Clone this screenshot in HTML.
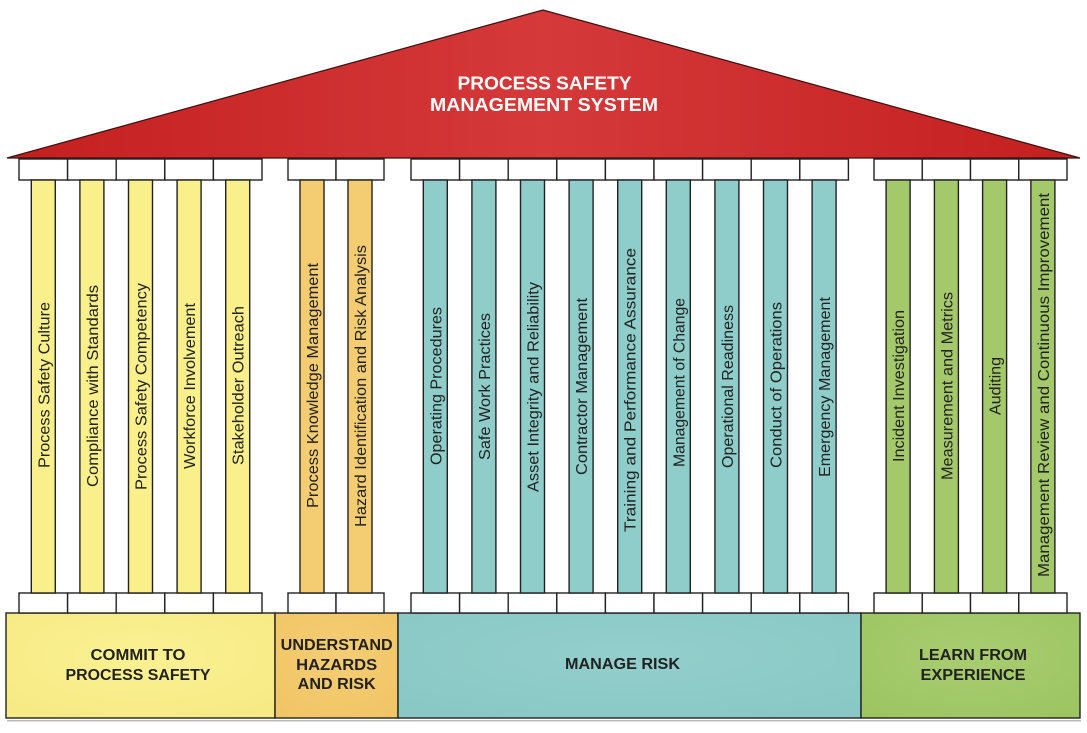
<!DOCTYPE html>
<html>
<head>
<meta charset="utf-8">
<style>
  html,body{margin:0;padding:0;background:#fff;}
  svg{display:block;}
  .col{font-family:"Liberation Sans",Arial,sans-serif;font-size:16px;fill:#222;}
  .base{font-family:"Liberation Sans",Arial,sans-serif;font-size:16px;font-weight:bold;fill:#222;}
  .roof{font-family:"Liberation Sans",Arial,sans-serif;font-size:18.5px;font-weight:bold;fill:#fff;}
</style>
</head>
<body>
<svg width="1087" height="733" viewBox="0 0 1087 733" xmlns="http://www.w3.org/2000/svg">
  <defs>
    <linearGradient id="roofG" x1="0" y1="0" x2="1" y2="0">
      <stop offset="0" stop-color="#c41f1f"/>
      <stop offset="0.5" stop-color="#d5393a"/>
      <stop offset="1" stop-color="#c41f1f"/>
    </linearGradient>
    <radialGradient id="yG" cx="0.5" cy="0.4" r="0.7">
      <stop offset="0" stop-color="#fbf192"/><stop offset="1" stop-color="#f6ea84"/>
    </radialGradient>
    <radialGradient id="oG" cx="0.5" cy="0.4" r="0.7">
      <stop offset="0" stop-color="#f5cd74"/><stop offset="1" stop-color="#f1c566"/>
    </radialGradient>
    <radialGradient id="tG" cx="0.5" cy="0.4" r="0.7">
      <stop offset="0" stop-color="#93cfcc"/><stop offset="1" stop-color="#89c8c5"/>
    </radialGradient>
    <radialGradient id="gG" cx="0.5" cy="0.4" r="0.7">
      <stop offset="0" stop-color="#a8cd70"/><stop offset="1" stop-color="#9dc562"/>
    </radialGradient>
  </defs>

  <!-- Roof -->
  <polygon points="7,158 543,10 1080,158" fill="url(#roofG)" stroke="#3a1010" stroke-width="1.2" stroke-linejoin="miter"/>
  <text class="roof" x="544.5" y="89.5" text-anchor="middle" textLength="174" lengthAdjust="spacingAndGlyphs">PROCESS SAFETY</text>
  <text class="roof" x="544" y="111" text-anchor="middle" textLength="228" lengthAdjust="spacingAndGlyphs">MANAGEMENT SYSTEM</text>

  <!-- Base blocks -->
  <rect x="7" y="720" width="1074" height="1.5" fill="#bbb"/>
  <rect x="6" y="613" width="269" height="105" fill="url(#yG)" stroke="#222" stroke-width="1.4"/>
  <rect x="275" y="613" width="123" height="105" fill="url(#oG)" stroke="#222" stroke-width="1.4"/>
  <rect x="398" y="613" width="463" height="105" fill="url(#tG)" stroke="#222" stroke-width="1.4"/>
  <rect x="861" y="613" width="219" height="105" fill="url(#gG)" stroke="#222" stroke-width="1.4"/>

  <text class="base" x="138" y="660" text-anchor="middle" textLength="95" lengthAdjust="spacingAndGlyphs">COMMIT TO</text>
  <text class="base" x="138" y="680" text-anchor="middle" textLength="145" lengthAdjust="spacingAndGlyphs">PROCESS SAFETY</text>
  <text class="base" x="336.7" y="650" text-anchor="middle" textLength="112" lengthAdjust="spacingAndGlyphs">UNDERSTAND</text>
  <text class="base" x="336.7" y="670" text-anchor="middle" textLength="81" lengthAdjust="spacingAndGlyphs">HAZARDS</text>
  <text class="base" x="336.7" y="689" text-anchor="middle" textLength="78" lengthAdjust="spacingAndGlyphs">AND RISK</text>
  <text class="base" x="622.5" y="669" text-anchor="middle" textLength="115" lengthAdjust="spacingAndGlyphs">MANAGE RISK</text>
  <text class="base" x="973" y="660" text-anchor="middle" textLength="108" lengthAdjust="spacingAndGlyphs">LEARN FROM</text>
  <text class="base" x="973" y="680" text-anchor="middle" textLength="105" lengthAdjust="spacingAndGlyphs">EXPERIENCE</text>

  <!-- Group 1: yellow (x0=19, w=48.6) -->
  <g stroke="#222" stroke-width="1.4">
    <!-- caps top -->
    <rect x="19" y="159" width="48.6" height="21" fill="#fff"/>
    <rect x="67.6" y="159" width="48.6" height="21" fill="#fff"/>
    <rect x="116.2" y="159" width="48.6" height="21" fill="#fff"/>
    <rect x="164.8" y="159" width="48.6" height="21" fill="#fff"/>
    <rect x="213.4" y="159" width="48.6" height="21" fill="#fff"/>
    <!-- caps bottom -->
    <rect x="19" y="593" width="48.6" height="20" fill="#fff"/>
    <rect x="67.6" y="593" width="48.6" height="20" fill="#fff"/>
    <rect x="116.2" y="593" width="48.6" height="20" fill="#fff"/>
    <rect x="164.8" y="593" width="48.6" height="20" fill="#fff"/>
    <rect x="213.4" y="593" width="48.6" height="20" fill="#fff"/>
    <!-- columns -->
    <rect x="31.3" y="180" width="24" height="413" fill="#f9ef8b"/>
    <rect x="79.9" y="180" width="24" height="413" fill="#f9ef8b"/>
    <rect x="128.5" y="180" width="24" height="413" fill="#f9ef8b"/>
    <rect x="177.1" y="180" width="24" height="413" fill="#f9ef8b"/>
    <rect x="225.7" y="180" width="24" height="413" fill="#f9ef8b"/>
  </g>

  <!-- Group 2: orange (x0=288, w=48) -->
  <g stroke="#222" stroke-width="1.4">
    <rect x="288" y="159" width="48" height="21" fill="#fff"/>
    <rect x="336" y="159" width="48" height="21" fill="#fff"/>
    <rect x="288" y="593" width="48" height="20" fill="#fff"/>
    <rect x="336" y="593" width="48" height="20" fill="#fff"/>
    <rect x="300" y="180" width="24" height="413" fill="#f4cd73"/>
    <rect x="348" y="180" width="24" height="413" fill="#f4cd73"/>
  </g>

  <!-- Group 3: teal (x0=411, w=48.6) -->
  <g stroke="#222" stroke-width="1.4">
    <rect x="411" y="159" width="48.6" height="21" fill="#fff"/>
    <rect x="459.6" y="159" width="48.6" height="21" fill="#fff"/>
    <rect x="508.2" y="159" width="48.6" height="21" fill="#fff"/>
    <rect x="556.8" y="159" width="48.6" height="21" fill="#fff"/>
    <rect x="605.4" y="159" width="48.6" height="21" fill="#fff"/>
    <rect x="654" y="159" width="48.6" height="21" fill="#fff"/>
    <rect x="702.6" y="159" width="48.6" height="21" fill="#fff"/>
    <rect x="751.2" y="159" width="48.6" height="21" fill="#fff"/>
    <rect x="799.8" y="159" width="48.6" height="21" fill="#fff"/>
    <rect x="411" y="593" width="48.6" height="20" fill="#fff"/>
    <rect x="459.6" y="593" width="48.6" height="20" fill="#fff"/>
    <rect x="508.2" y="593" width="48.6" height="20" fill="#fff"/>
    <rect x="556.8" y="593" width="48.6" height="20" fill="#fff"/>
    <rect x="605.4" y="593" width="48.6" height="20" fill="#fff"/>
    <rect x="654" y="593" width="48.6" height="20" fill="#fff"/>
    <rect x="702.6" y="593" width="48.6" height="20" fill="#fff"/>
    <rect x="751.2" y="593" width="48.6" height="20" fill="#fff"/>
    <rect x="799.8" y="593" width="48.6" height="20" fill="#fff"/>
    <rect x="423.3" y="180" width="24" height="413" fill="#8ecdca"/>
    <rect x="471.9" y="180" width="24" height="413" fill="#8ecdca"/>
    <rect x="520.5" y="180" width="24" height="413" fill="#8ecdca"/>
    <rect x="569.1" y="180" width="24" height="413" fill="#8ecdca"/>
    <rect x="617.7" y="180" width="24" height="413" fill="#8ecdca"/>
    <rect x="666.3" y="180" width="24" height="413" fill="#8ecdca"/>
    <rect x="714.9" y="180" width="24" height="413" fill="#8ecdca"/>
    <rect x="763.5" y="180" width="24" height="413" fill="#8ecdca"/>
    <rect x="812.1" y="180" width="24" height="413" fill="#8ecdca"/>
  </g>

  <!-- Group 4: green (x0=874, w=48.25) -->
  <g stroke="#222" stroke-width="1.4">
    <rect x="874" y="159" width="48.25" height="21" fill="#fff"/>
    <rect x="922.25" y="159" width="48.25" height="21" fill="#fff"/>
    <rect x="970.5" y="159" width="48.25" height="21" fill="#fff"/>
    <rect x="1018.75" y="159" width="48.25" height="21" fill="#fff"/>
    <rect x="874" y="593" width="48.25" height="20" fill="#fff"/>
    <rect x="922.25" y="593" width="48.25" height="20" fill="#fff"/>
    <rect x="970.5" y="593" width="48.25" height="20" fill="#fff"/>
    <rect x="1018.75" y="593" width="48.25" height="20" fill="#fff"/>
    <rect x="886.1" y="180" width="24" height="413" fill="#a3c96a"/>
    <rect x="934.4" y="180" width="24" height="413" fill="#a3c96a"/>
    <rect x="982.6" y="180" width="24" height="413" fill="#a3c96a"/>
    <rect x="1030.9" y="180" width="24" height="413" fill="#a3c96a"/>
  </g>

  <!-- Column labels (rotated, reading bottom-to-top) -->
  <g class="col" text-anchor="middle">
    <text transform="translate(49.3,385) rotate(-90)" textLength="166" lengthAdjust="spacingAndGlyphs">Process Safety Culture</text>
    <text transform="translate(97.9,386) rotate(-90)" textLength="202" lengthAdjust="spacingAndGlyphs">Compliance with Standards</text>
    <text transform="translate(146.5,386.5) rotate(-90)" textLength="207" lengthAdjust="spacingAndGlyphs">Process Safety Competency</text>
    <text transform="translate(195.1,386) rotate(-90)" textLength="166" lengthAdjust="spacingAndGlyphs">Workforce Involvement</text>
    <text transform="translate(243.7,385.5) rotate(-90)" textLength="159" lengthAdjust="spacingAndGlyphs">Stakeholder Outreach</text>

    <text transform="translate(318,385.5) rotate(-90)" textLength="245" lengthAdjust="spacingAndGlyphs">Process Knowledge Management</text>
    <text transform="translate(366,386) rotate(-90)" textLength="282" lengthAdjust="spacingAndGlyphs">Hazard Identification and Risk Analysis</text>

    <text transform="translate(441.3,386) rotate(-90)" textLength="158" lengthAdjust="spacingAndGlyphs">Operating Procedures</text>
    <text transform="translate(489.9,386.5) rotate(-90)" textLength="147" lengthAdjust="spacingAndGlyphs">Safe Work Practices</text>
    <text transform="translate(538.5,387) rotate(-90)" textLength="210" lengthAdjust="spacingAndGlyphs">Asset Integrity and Reliability</text>
    <text transform="translate(587.1,386.5) rotate(-90)" textLength="177" lengthAdjust="spacingAndGlyphs">Contractor Management</text>
    <text transform="translate(635.7,390) rotate(-90)" textLength="284" lengthAdjust="spacingAndGlyphs">Training and Performance Assurance</text>
    <text transform="translate(684.3,382.5) rotate(-90)" textLength="169" lengthAdjust="spacingAndGlyphs">Management of Change</text>
    <text transform="translate(732.9,386.5) rotate(-90)" textLength="163" lengthAdjust="spacingAndGlyphs">Operational Readiness</text>
    <text transform="translate(781.5,385) rotate(-90)" textLength="166" lengthAdjust="spacingAndGlyphs">Conduct of Operations</text>
    <text transform="translate(830.1,387) rotate(-90)" textLength="180" lengthAdjust="spacingAndGlyphs">Emergency Management</text>

    <text transform="translate(904.1,386) rotate(-90)" textLength="152" lengthAdjust="spacingAndGlyphs">Incident Investigation</text>
    <text transform="translate(952.4,386) rotate(-90)" textLength="188" lengthAdjust="spacingAndGlyphs">Measurement and Metrics</text>
    <text transform="translate(1000.6,386) rotate(-90)" textLength="58" lengthAdjust="spacingAndGlyphs">Auditing</text>
    <text transform="translate(1048.9,385) rotate(-90)" textLength="384" lengthAdjust="spacingAndGlyphs">Management Review and Continuous Improvement</text>
  </g>
</svg>
</body>
</html>
